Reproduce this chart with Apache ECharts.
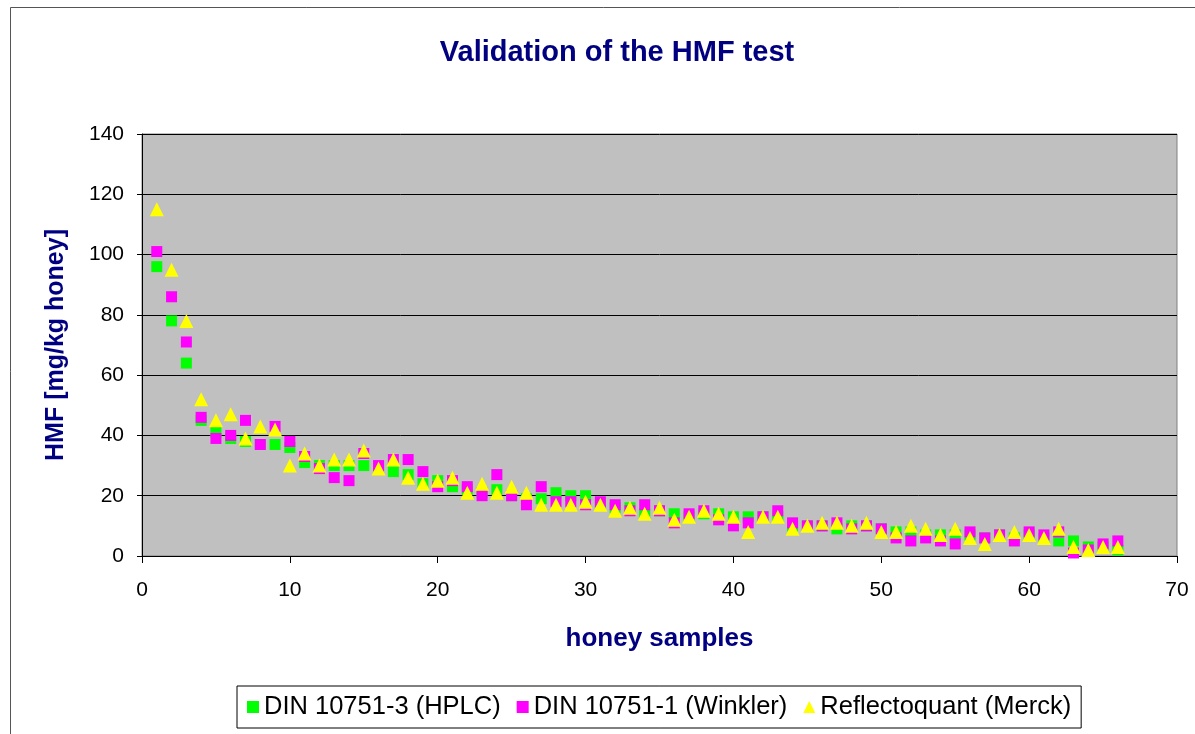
<!DOCTYPE html>
<html>
<head>
<meta charset="utf-8">
<script src="https://cdn.jsdelivr.net/npm/echarts@6/dist/echarts.min.js"></script>
<style>
  html, body { margin: 0; padding: 0; background: #fff; }
  #chart { width: 1195px; height: 734px; }
</style>
</head>
<body>
<div id="chart"></div>
<script>
// sample numbers 1..66
const samples = Array.from({ length: 66 }, (_, i) => i + 1)

// DIN 10751-3 (HPLC)
const hplc = [96, 78, 64, 45, 41, 39, 38, 37, 37, 36,
  31, 30, 30, 30, 30, 29, 28, 27, 24, 25,
  23, 22, 21, 22, 20, 19, 19, 21, 20, 20,
  17, 16, 16, 14, 15, 14, 13, 14, 14, 13,
  13, 13, 13, 10, 10, 10, 9, 10, 10, 9,
  8, 8, 7, 7, 7, 7, 6, 7, 6, 7,
  6, 5, 5, 3, 3, 2]

// DIN 10751-1 (Winkler)
const winkler = [101, 86, 71, 46, 39, 40, 45, 37, 43, 38,
  33, 29, 26, 25, 34, 30, 32, 32, 28, 23,
  25, 23, 20, 27, 20, 17, 23, 18, 18, 17,
  18, 17, 15, 17, 15, 11, 14, 15, 12, 10,
  11, 13, 15, 11, 10, 10, 11, 9, 10, 9,
  6, 5, 6, 5, 4, 8, 6, 7, 5, 8,
  7, 8, 1, 2, 4, 5]

// Reflectoquant (Merck)
const merck = [115, 95, 78, 52, 45, 47, 39, 43, 42, 30,
  34, 30, 32, 32, 35, 29, 32, 26, 24, 25,
  26, 21, 24, 21, 23, 21, 17, 17, 17, 18,
  17, 15, 16, 14, 16, 12, 13, 15, 14, 13,
  8, 13, 13, 9, 10, 11, 11, 10, 11, 8,
  8, 10, 9, 7, 9, 6, 4, 7, 8, 7,
  6, 9, 3, 2, 3, 3]

const xTicks = [0, 10, 20, 30, 40, 50, 60, 70]
const yTicks = [0, 20, 40, 60, 80, 100, 120, 140]

const pair = arr => samples.map((s, i) => [s, arr[i]])
const navy = '#000080'
const font = 'Liberation Sans, Arial, sans-serif'

const chart = echarts.init(document.getElementById('chart'))

chart.setOption({
  backgroundColor: '#fff',
  animation: false,
  textStyle: { fontFamily: font },
  title: {
    text: 'Validation of the HMF test',
    left: 612,
    textAlign: 'center',
    top: 33,
    textStyle: { color: navy, fontSize: 29, fontWeight: 'bold', fontFamily: font },
  },
  graphic: [
    {
      type: 'rect',
      shape: { x: 10.5, y: 7.5, width: 1200, height: 740 },
      style: { fill: 'none', stroke: '#555', lineWidth: 1 },
      silent: true,
    },
  ],
  grid: { left: 142, right: 18, top: 134, bottom: 178, backgroundColor: '#c0c0c0', show: true, borderColor: '#808080', borderWidth: 1 },
  legend: {
    bottom: 6,
    left: 237,
    padding: [8, 10, 8, 10],
    borderColor: '#000',
    borderWidth: 1,
    itemGap: 16,
    itemWidth: 12,
    itemHeight: 12,
    textStyle: { color: '#000', fontSize: 25.5, fontFamily: font },
    data: [
      { name: 'DIN 10751-3 (HPLC)', icon: 'rect' },
      { name: 'DIN 10751-1 (Winkler)', icon: 'rect' },
      { name: 'Reflectoquant (Merck)', icon: 'triangle' },
    ],
  },
  xAxis: {
    type: 'value',
    min: xTicks[0],
    max: xTicks[xTicks.length - 1],
    interval: 10,
    name: 'honey samples',
    nameLocation: 'middle',
    nameGap: 70,
    nameTextStyle: { color: navy, fontSize: 26, fontWeight: 'bold', fontFamily: font },
    axisLine: { show: true, onZero: false, lineStyle: { color: '#000', width: 1 } },
    axisTick: { show: true, length: 7, lineStyle: { color: '#000' } },
    axisLabel: { color: '#000', fontSize: 21, margin: 24, fontFamily: font },
    splitLine: { show: false },
  },
  yAxis: {
    type: 'value',
    min: yTicks[0],
    max: yTicks[yTicks.length - 1],
    interval: 20,
    name: 'HMF [mg/kg honey]',
    nameLocation: 'middle',
    nameGap: 73,
    nameTextStyle: { color: navy, fontSize: 25, fontWeight: 'bold', fontFamily: font },
    axisLine: { show: true, lineStyle: { color: '#000', width: 1 } },
    axisTick: { show: true, length: 5, lineStyle: { color: '#000' } },
    axisLabel: { color: '#000', fontSize: 21, margin: 18, fontFamily: font },
    splitLine: { show: true, lineStyle: { color: '#000', width: 1 } },
  },
  series: [
    {
      name: 'DIN 10751-3 (HPLC)',
      type: 'scatter',
      symbol: 'rect',
      symbolSize: 11,
      itemStyle: { color: '#00ff00', opacity: 1 },
      data: pair(hplc),
    },
    {
      name: 'DIN 10751-1 (Winkler)',
      type: 'scatter',
      symbol: 'rect',
      symbolSize: 11,
      itemStyle: { color: '#ff00ff', opacity: 1 },
      data: pair(winkler),
    },
    {
      name: 'Reflectoquant (Merck)',
      type: 'scatter',
      symbol: 'triangle',
      symbolSize: 14,
      itemStyle: { color: '#ffff00', opacity: 1 },
      data: pair(merck),
    },
  ],
})
</script>
</body>
</html>
